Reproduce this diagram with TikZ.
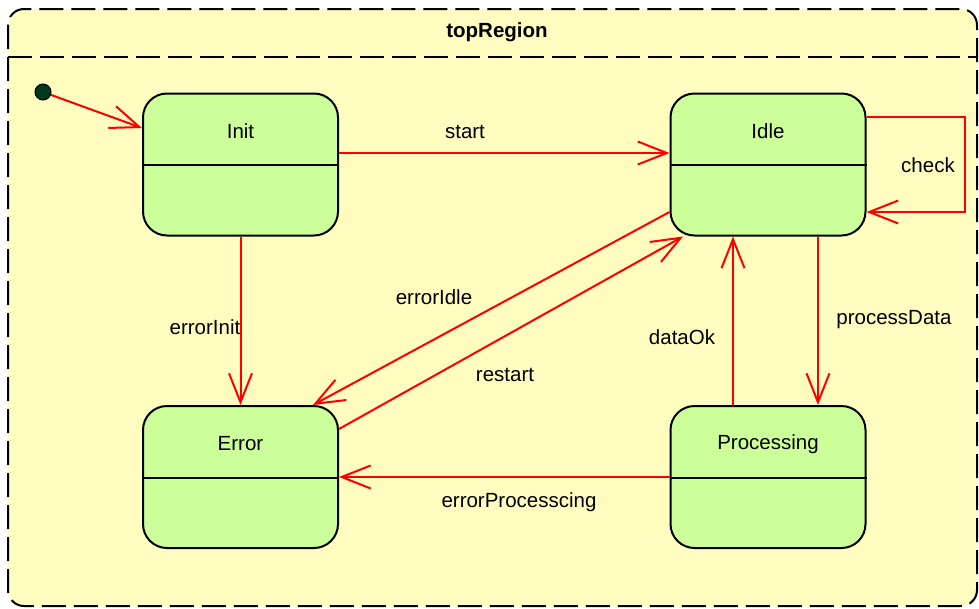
\documentclass[tikz,border=0pt]{standalone}
\usepackage{fontspec}
\setmainfont{Liberation Sans}
\usetikzlibrary{arrows.meta,calc}
\definecolor{regionfill}{RGB}{255,252,192}
\definecolor{statefill}{RGB}{204,255,153}
\definecolor{dotgreen}{RGB}{0,56,28}
\definecolor{transred}{RGB}{255,0,0}
\begin{document}
\begin{tikzpicture}[x=1pt,y=-1pt,
  every node/.style={font=\fontsize{20.5}{24}\selectfont, inner sep=0pt},
  statebox/.style={draw=black, fill=statefill, line width=2pt, rounded corners=24pt,
    minimum width=195pt, minimum height=142pt},
  sepline/.style={draw=black, line width=2pt},
  trans/.style={draw=transred, line width=2pt, -{Straight Barb[length=29pt,width=23pt,line width=2pt]}},
  lbl/.style={text=black}
]
\useasboundingbox (0,0) rectangle (979,608);
% region
\draw[fill=regionfill, line width=2pt, dash pattern=on 24pt off 8pt, rounded corners=16pt]
  (8,9) rectangle (977,606);
\draw[line width=2pt, dash pattern=on 24pt off 8pt] (8,57) -- (977,57);
\node[font=\bfseries\fontsize{20.5}{24}\selectfont] (title) at (497,32) {topRegion};

% states
\node[statebox] (init) at (240.5,164.5) {};
\node[statebox] (idle) at (768,164.5) {};
\node[statebox] (error) at (240.5,477) {};
\node[statebox] (proc) at (768,477) {};
\foreach \s in {init,idle,error,proc}{
  \draw[sepline] ([yshift=-0.5pt]\s.west) -- ([yshift=-0.5pt]\s.east);
}
\node[lbl] (initT) at ([yshift=33pt]init.center) {Init};
\node[lbl] (idleT) at ([yshift=33pt]idle.center) {Idle};
\node[lbl] (errorT) at ([yshift=33pt]error.center) {Error};
\node[lbl] (procT) at ([yshift=33pt]proc.center) {Processing};

% initial pseudostate
\node[circle, fill=dotgreen, draw=black, line width=1pt, minimum size=16pt] (ini) at (43,92) {};

% transitions
\draw[trans] (ini) -- ([yshift=36.5pt]init.west);
\draw[trans] ([yshift=11.5pt]init.east) -- ([yshift=11.5pt]idle.west);
\draw[trans] ([yshift=47.5pt]idle.east) -- ++(98,0) |- ([yshift=-47.5pt]idle.east);
\draw[trans] (init.south) -- (error.north);
\draw[trans] ([yshift=-47.5pt]idle.west) -- ([xshift=72.5pt]error.north);
\draw[trans] ([yshift=48pt]error.east) -- ([xshift=-85pt]idle.south);
\draw[trans] ([xshift=-35pt]proc.north) -- ([xshift=-35pt]idle.south);
\draw[trans] ([xshift=50pt]idle.south) -- ([xshift=50pt]proc.north);
\draw[trans] (proc.west) -- (error.east);

% labels
\node[lbl] (lstart) at (465,132) {start};
\node[lbl] (lcheck) at (928,165) {check};
\node[lbl] (lerrinit) at (205,327) {errorInit};
\node[lbl] (lerridle) at (434,297) {errorIdle};
\node[lbl] (lrestart) at (505,375) {restart};
\node[lbl] (ldataok) at (682,337) {dataOk};
\node[lbl] (lprocdata) at (894,320) {processData};
\node[lbl] (lerrproc) at (519,502) {errorProcesscing};
\end{tikzpicture}
\end{document}
